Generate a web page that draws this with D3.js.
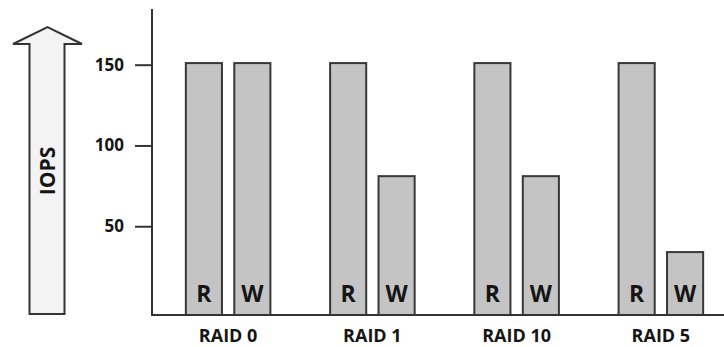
<!DOCTYPE html>
<html>
<head>
<meta charset="utf-8">
<script src="https://cdn.jsdelivr.net/npm/d3@7/dist/d3.min.js"></script>
<style>
  html, body { margin: 0; padding: 0; background: #fff; }
  svg { display: block; }
  text { font-family: "Open Sans", "DejaVu Sans", sans-serif; font-weight: 700; }
</style>
</head>
<body>
<svg id="chart" width="724" height="347"></svg>
<script>
// RAID levels and their read / write IOPS (relative units)
const categories = ["RAID 0", "RAID 1", "RAID 10", "RAID 5"];
const operations = ["R", "W"];
const readIops = [151, 151, 151, 151];
const writeIops = [151, 81, 81, 34];
const yTicks = [50, 100, 150];
const axisTitle = "IOPS";

const svg = d3.select("#chart");
const W = 724, H = 347;

const axisX = 152;      // vertical axis position
const baseY = 315;      // horizontal baseline
const topY = 9;

const y = d3.scaleLinear().domain([0, 150]).range([307, 64.7]);

const x0 = d3.scaleBand().domain(categories)
  .range([156, 733]).paddingInner(0.4).paddingOuter(0.2);
const x1 = d3.scaleBand().domain(operations)
  .range([0, x0.bandwidth()]).paddingInner(0.213);

const rows = categories.map((c, i) => ({
  cat: c,
  values: [{ op: "R", v: readIops[i] }, { op: "W", v: writeIops[i] }]
}));

// IOPS arrow on the left
const ax = { l: 29.5, r: 64.5, hl: 13, hr: 82, tip: 27, hb: 44, bottom: 314 };
const cx = (ax.hl + ax.hr) / 2;
svg.append("path")
  .attr("d", `M${ax.l},${ax.bottom} L${ax.l},${ax.hb} L${ax.hl},${ax.hb} L${cx},${ax.tip} L${ax.hr},${ax.hb} L${ax.r},${ax.hb} L${ax.r},${ax.bottom} Z`)
  .attr("fill", "#f3f3f3")
  .attr("stroke", "#333")
  .attr("stroke-width", 2)
  .attr("stroke-linejoin", "miter");
svg.append("text")
  .attr("transform", `translate(${(ax.l + ax.r) / 2 + 8},171) rotate(-90)`)
  .attr("text-anchor", "middle")
  .attr("font-size", 21)
  .attr("fill", "#151515")
  .text(axisTitle);

// Bars
const groups = svg.append("g").selectAll("g")
  .data(rows).join("g")
  .attr("transform", d => `translate(${x0(d.cat)},0)`);

groups.selectAll("rect")
  .data(d => d.values).join("rect")
  .attr("x", d => x1(d.op) + 1)
  .attr("width", x1.bandwidth() - 2)
  .attr("y", d => y(d.v))
  .attr("height", d => baseY - y(d.v))
  .attr("fill", "#c4c4c4")
  .attr("stroke", "#383838")
  .attr("stroke-width", 2);

groups.selectAll("text.op")
  .data(d => d.values).join("text")
  .attr("class", "op")
  .attr("x", d => x1(d.op) + x1.bandwidth() / 2)
  .attr("y", 302)
  .attr("text-anchor", "middle")
  .attr("font-size", 23)
  .attr("fill", "#151515")
  .text(d => d.op);

// Category labels
svg.append("g").selectAll("text")
  .data(categories).join("text")
  .attr("x", d => x0(d) + x0.bandwidth() / 2)
  .attr("y", 342)
  .attr("text-anchor", "middle")
  .attr("font-size", 18)
  .attr("fill", "#151515")
  .text(d => d);

// Y axis with ticks
const yAxis = d3.axisLeft(y).tickValues(yTicks).tickSize(17).tickPadding(11);
const gy = svg.append("g").attr("transform", `translate(${axisX},0)`).call(yAxis);
gy.select(".domain").remove();
gy.selectAll(".tick line").attr("stroke", "#333").attr("stroke-width", 2);
gy.selectAll(".tick text")
  .attr("font-size", 17)
  .attr("font-family", "'Open Sans', sans-serif")
  .attr("font-weight", 700)
  .attr("fill", "#151515");

// Axis lines
svg.append("line")
  .attr("x1", axisX).attr("x2", axisX)
  .attr("y1", topY).attr("y2", baseY + 1)
  .attr("stroke", "#333").attr("stroke-width", 2);
svg.append("line")
  .attr("x1", axisX - 1).attr("x2", W)
  .attr("y1", baseY).attr("y2", baseY)
  .attr("stroke", "#333").attr("stroke-width", 2);
</script>
</body>
</html>
